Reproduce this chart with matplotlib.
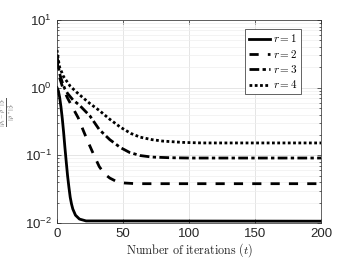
import numpy as np
import matplotlib.pyplot as plt

plt.rcParams['mathtext.fontset'] = 'cm'
plt.rcParams['font.family'] = ['Liberation Sans', 'DejaVu Sans']

# values
t1 = [0, 1, 2, 3, 4, 5, 6, 7, 8, 9, 10, 11, 12, 14, 17, 22, 200]
r1 = [1.0, 0.9, 0.72, 0.52, 0.35, 0.22, 0.13, 0.08, 0.05, 0.034, 0.024,
      0.019, 0.016, 0.013, 0.0114, 0.0107, 0.0106]

t2 = [0, 1, 2, 4, 6, 8, 12, 16, 20, 24, 28, 32, 36, 40, 45, 50, 60, 200]
r2 = [2.6, 1.8, 1.4, 1.05, 0.85, 0.7, 0.5, 0.36, 0.23, 0.15, 0.1, 0.068,
      0.053, 0.046, 0.041, 0.039, 0.038, 0.038]

t3 = [0, 1, 2, 4, 6, 8, 12, 17, 25, 32, 40, 48, 55, 63, 72, 85, 100, 200]
r3 = [3.1, 2.1, 1.6, 1.2, 0.95, 0.82, 0.66, 0.55, 0.38, 0.24, 0.17, 0.13,
      0.11, 0.099, 0.094, 0.092, 0.091, 0.091]

t4 = [0, 1, 2, 5, 10, 15, 20, 25, 32, 40, 48, 56, 63, 72, 80, 95, 110, 200]
r4 = [3.6, 2.6, 2.0, 1.45, 1.05, 0.85, 0.7, 0.58, 0.46, 0.34, 0.26, 0.21,
      0.185, 0.17, 0.162, 0.155, 0.152, 0.152]

labels = [r'$r=1$', r'$r=2$', r'$r=3$', r'$r=4$']

fig = plt.figure(figsize=(3.54, 2.66), dpi=100)
ax = fig.add_axes([0.161, 0.162, 0.746, 0.763])

ax.plot(t1, r1, color='k', lw=2, ls='-', label=labels[0])
ax.plot(t2, r2, color='k', lw=2, dashes=(3.3, 3.3), label=labels[1])
ax.plot(t3, r3, color='k', lw=2, dashes=(3.5, 1.2, 1.2, 1.2), label=labels[2])
ax.plot(t4, r4, color='k', lw=2, dashes=(1, 0.9), label=labels[3])

ax.set_yscale('log')
ax.set_xlim(0, 200)
ax.set_ylim(1e-2, 1e1)
ax.set_xticks([0, 50, 100, 150, 200])
ax.grid(True, which='major', color='#e0e0e0', lw=0.6)
ax.grid(True, which='minor', color='#efefef', lw=0.5)
ax.tick_params(which='both', direction='in', labelsize=9.5, colors='#262626',
               top=True, right=True, width=0.5)
ax.tick_params(which='major', length=3)
ax.tick_params(which='minor', length=1.5)
for s in ax.spines.values():
    s.set_color('#262626')
    s.set_linewidth(0.5)

ax.set_xlabel(r'$\mathrm{Number\ of\ iterations\ }(t)$', fontsize=8.7,
              color='#262626', labelpad=1)
fig.text(8 / 354, 1 - 112 / 266,
         r'$\frac{\|\rho_t-\rho^*\|_F^2}{\|\rho^*\|_F^2}$', fontsize=6,
         color='#555555', rotation=90, ha='center', va='center')

leg = ax.legend(loc='upper right', bbox_to_anchor=(0.925, 0.955), fontsize=8,
                handlelength=1.9, handletextpad=0.3, borderpad=0.3,
                labelspacing=0.3, fancybox=False, framealpha=1,
                edgecolor='#262626', borderaxespad=0)
leg.get_frame().set_linewidth(0.5)

fig.savefig('out.png', dpi=100)
